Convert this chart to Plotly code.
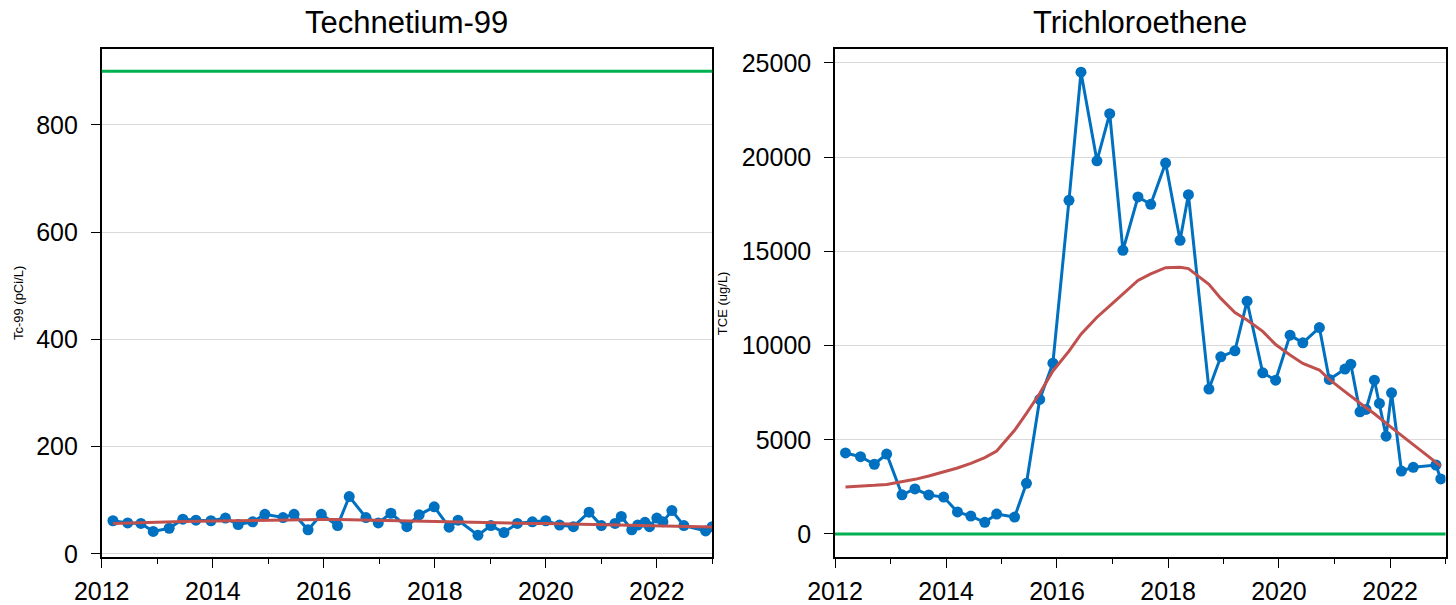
import plotly.graph_objects as go

# Tc-99 (pCi/L) sampling results
tc_dates = ['2012-03-15', '2012-06-20', '2012-09-15', '2012-12-05', '2013-03-20', '2013-06-18',
            '2013-09-12', '2013-12-20', '2014-03-25', '2014-06-17', '2014-09-20', '2014-12-10',
            '2015-04-08', '2015-06-20', '2015-09-20', '2015-12-16', '2016-04-01', '2016-06-17',
            '2016-10-05', '2016-12-25', '2017-03-18', '2017-07-01', '2017-09-20', '2017-12-28',
            '2018-04-05', '2018-06-03', '2018-10-12', '2019-01-05', '2019-04-01', '2019-06-28',
            '2019-10-05', '2020-01-01', '2020-04-01', '2020-07-01', '2020-10-12', '2021-01-01',
            '2021-04-01', '2021-05-12', '2021-07-20', '2021-08-28', '2021-10-15', '2021-11-14',
            '2022-01-01', '2022-02-10', '2022-04-10', '2022-06-28', '2022-11-18', '2022-12-31']
tc_values = [62, 58, 57, 42, 48, 65, 63, 62, 67, 55, 60, 74,
             68, 74, 45, 74, 53, 107, 68, 58, 76, 51, 73, 88,
             50, 63, 35, 53, 40, 57, 60, 62, 54, 51, 78, 53,
             57, 70, 45, 54, 59, 51, 67, 60, 81, 53, 43, 51]
tc_trend = [57, 58, 58.5, 59, 60, 60.5, 61, 61.5, 62, 62.5, 63, 63.5,
            64, 64, 64.5, 64.5, 64.5, 64, 63.5, 63, 62.5, 62, 61, 60.5,
            60, 59.5, 58.5, 58, 57.5, 57.5, 57, 57, 56.5, 56, 56, 55.5,
            55, 55, 54.5, 54, 54, 53.5, 53.5, 53, 52.5, 52, 51, 50.5]
tc_limit = 900

# TCE (ug/L) sampling results
tce_dates = ['2012-03-10', '2012-06-17', '2012-09-16', '2012-12-06', '2013-03-17', '2013-06-10',
             '2013-09-09', '2013-12-16', '2014-03-17', '2014-06-13', '2014-09-13', '2014-11-30',
             '2015-03-28', '2015-06-14', '2015-09-09', '2015-12-05', '2016-03-20', '2016-06-07',
             '2016-09-20', '2016-12-13', '2017-03-10', '2017-06-17', '2017-09-09', '2017-12-16',
             '2018-03-21', '2018-05-15', '2018-09-27', '2018-12-14', '2019-03-17', '2019-06-05',
             '2019-09-16', '2019-12-10', '2020-03-14', '2020-06-06', '2020-09-23', '2020-11-27',
             '2021-03-10', '2021-04-18', '2021-06-17', '2021-07-27', '2021-09-20', '2021-10-23',
             '2021-12-06', '2022-01-11', '2022-03-17', '2022-06-03', '2022-10-30', '2022-12-01']
tce_values = [4300, 4100, 3700, 4240, 2080, 2390, 2070, 1960, 1170, 950, 620, 1060,
              900, 2690, 7140, 9060, 17700, 24500, 19800, 22300, 15050, 17880, 17490, 19680,
              15580, 18000, 7690, 9400, 9720, 12350, 8550, 8160, 10550, 10140, 10950, 8200,
              8750, 9010, 6480, 6610, 8160, 6930, 5190, 7490, 3340, 3540, 3660, 2920]
tce_trend = [2500, 2530, 2580, 2630, 2770, 2900, 3080, 3300, 3500, 3750, 4050, 4400,
             5500, 6400, 7450, 8650, 9700, 10600, 11500, 12100, 12750, 13450, 13800, 14130,
             14150, 14080, 13250, 12500, 11750, 11350, 10750, 10050, 9500, 9050, 8700, 8200,
             7550, 7300, 6950, 6700, 6380, 6150, 5870, 5640, 5230, 4750, 3820, 3600]
tce_limit = 5

BLUE = '#0070C0'
RED = '#C0504D'
GREEN = '#00B050'
FONT = 'Liberation Sans, Arial, sans-serif'

fig = go.Figure()

# left panel
fig.add_trace(go.Scatter(x=tc_dates, y=tc_values, mode='lines+markers',
                         line=dict(color=BLUE, width=3), marker=dict(color=BLUE, size=11),
                         xaxis='x', yaxis='y', showlegend=False))
fig.add_trace(go.Scatter(x=tc_dates, y=tc_trend, mode='lines',
                         line=dict(color=RED, width=3), xaxis='x', yaxis='y', showlegend=False))
# right panel
fig.add_trace(go.Scatter(x=tce_dates, y=tce_values, mode='lines+markers',
                         line=dict(color=BLUE, width=3), marker=dict(color=BLUE, size=11),
                         xaxis='x2', yaxis='y2', showlegend=False))
fig.add_trace(go.Scatter(x=tce_dates, y=tce_trend, mode='lines',
                         line=dict(color=RED, width=3), xaxis='x2', yaxis='y2', showlegend=False))

# regulatory limits as green horizontal lines
fig.add_shape(type='line', xref='x domain', yref='y', x0=0, x1=1, y0=tc_limit, y1=tc_limit,
              line=dict(color=GREEN, width=3), layer='above')
fig.add_shape(type='line', xref='x2 domain', yref='y2', x0=0, x1=1, y0=tce_limit, y1=tce_limit,
              line=dict(color=GREEN, width=3), layer='above')

xax = dict(type='date', range=['2012-01-01', '2023-01-01'], dtick='M24', tick0='2012-01-01',
           tickformat='%Y', ticks='outside', ticklen=9, tickwidth=1.3, tickcolor='black',
           showline=True, linecolor='black', linewidth=1.5, mirror=True, showgrid=False,
           zeroline=False, ticklabelstandoff=2, automargin=False,
           minor=dict(dtick='M12', tick0='2012-01-01', ticks='outside', ticklen=5,
                      tickwidth=1.3, tickcolor='black', showgrid=False),
           tickfont=dict(family=FONT, size=25, color='black'))
yax = dict(ticks='outside', ticklen=9, tickwidth=1.3, tickcolor='black',
           showline=True, linecolor='black', linewidth=1.5, mirror=True,
           showgrid=True, gridcolor='#d9d9d9', gridwidth=1, zeroline=False, automargin=False,
           tickformat='d', ticklabelstandoff=8, tickfont=dict(family=FONT, size=25, color='black'))

fig.update_layout(
    width=1456, height=605,
    margin=dict(l=0, r=0, t=0, b=0, autoexpand=False),
    paper_bgcolor='white', plot_bgcolor='white',
    xaxis=dict(xax, domain=[0.06985, 0.48922], anchor='y'),
    yaxis=dict(yax, domain=[0.07934, 0.91901], anchor='x', range=[-5.6, 941.7], dtick=200),
    xaxis2=dict(xax, domain=[0.57349, 0.99279], anchor='y2'),
    yaxis2=dict(yax, domain=[0.07934, 0.91901], anchor='x2', range=[-1220, 25730], dtick=5000),
)

# panel titles and axis labels
fig.add_annotation(text='Technetium-99', x=0.2795, y=0.962, xref='paper', yref='paper',
                   xanchor='center', yanchor='middle', showarrow=False,
                   font=dict(family=FONT, size=31, color='black'))
fig.add_annotation(text='Trichloroethene', x=0.7831, y=0.962, xref='paper', yref='paper',
                   xanchor='center', yanchor='middle', showarrow=False,
                   font=dict(family=FONT, size=31, color='black'))
fig.add_annotation(text='Tc-99 (pCi/L)', x=0.01236, y=0.499, xref='paper', yref='paper',
                   xanchor='center', yanchor='middle', textangle=-90, showarrow=False,
                   font=dict(family=FONT, size=13, color='black'))
fig.add_annotation(text='TCE (ug/L)', x=0.4959, y=0.499, xref='paper', yref='paper',
                   xanchor='center', yanchor='middle', textangle=-90, showarrow=False,
                   font=dict(family=FONT, size=13, color='black'))

fig.write_html('out.html', config={'displayModeBar': False},
               post_script="document.body.style.margin='0';")
